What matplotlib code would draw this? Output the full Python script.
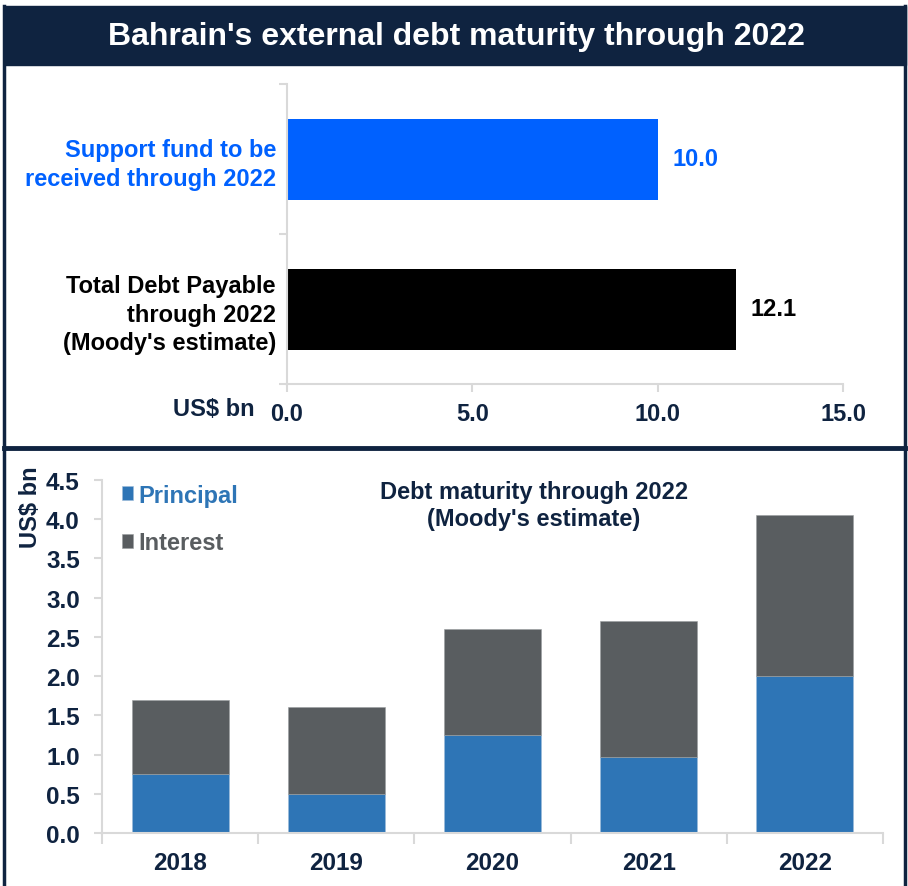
import numpy as np
import matplotlib.pyplot as plt
from matplotlib.patches import Rectangle
from matplotlib.lines import Line2D

plt.rcParams['font.family'] = ['Liberation Sans', 'DejaVu Sans']
plt.rcParams['font.weight'] = 'bold'
plt.rcParams['axes.labelweight'] = 'bold'

NAVY = '#0f2340'
GRID = '#d9d9d9'
BLUE_BRIGHT = '#0061ff'
BLUE = '#2e75b6'
GREY = '#595d60'

# top panel: funding vs payable
fund_labels = ["Total Debt Payable\nthrough 2022\n(Moody's estimate)",
               "Support fund to be\nreceived through 2022"]
fund_values = [12.1, 10.0]
fund_colors = ['black', BLUE_BRIGHT]

# bottom panel: maturity by year
years = ['2018', '2019', '2020', '2021', '2022']
principal = [0.75, 0.50, 1.25, 0.97, 2.00]
interest = [0.95, 1.10, 1.35, 1.73, 2.05]

W, H = 908, 887
fig = plt.figure(figsize=(W / 100, H / 100), dpi=100)


def fx(px):
    return px / W


def fy(py):
    return 1 - py / H


# frame, title band and panel divider
fig.patches.append(Rectangle((fx(4), fy(66)), fx(902), fy(7) - fy(66),
                             transform=fig.transFigure, color=NAVY, zorder=0))
fig.text(fx(456), fy(37), "Bahrain's external debt maturity through 2022",
         color='white', fontsize=23, ha='center', va='center')
for xs, ys, lw in [([4, 4], [7, 887], 2.5), ([905, 905], [7, 887], 2.5),
                   ([4, 905], [449, 449], 3.5)]:
    fig.lines.append(Line2D([fx(x) for x in xs], [fy(y) for y in ys],
                            transform=fig.transFigure, color=NAVY, lw=lw))

# ---- top horizontal bars ----
ax1 = fig.add_axes([fx(287), fy(385), fx(843) - fx(287), fy(85) - fy(385)])
ypos = np.arange(len(fund_values))
ax1.barh(ypos, fund_values, height=0.54, color=fund_colors)
ax1.set_xlim(0, 15)
ax1.set_ylim(-0.5, 1.5)
for y, v, c in zip(ypos, fund_values, fund_colors):
    ax1.text(v + 0.4, y, f'{v:.1f}', color=c, fontsize=17,
             ha='left', va='center')
ax1.set_yticks(ypos)
ax1.set_yticklabels(fund_labels, fontsize=17, linespacing=1.3)
for lab, c in zip(ax1.get_yticklabels(), fund_colors):
    lab.set_color(c)
ax1.set_yticks([-0.5, 0.5, 1.5], minor=True)
ax1.tick_params(axis='y', which='major', length=0, pad=8)
ax1.tick_params(axis='y', which='minor', length=6, width=1.5, color=GRID)
ax1.set_xticks([0, 5, 10, 15])
ax1.set_xticklabels(['0.0', '5.0', '10.0', '15.0'])
ax1.tick_params(axis='x', length=6, width=1.5, color=GRID, labelsize=17,
                labelcolor=NAVY, pad=7)
for s in ['top', 'right']:
    ax1.spines[s].set_visible(False)
for s in ['left', 'bottom']:
    ax1.spines[s].set_color(GRID)
    ax1.spines[s].set_linewidth(1.5)
fig.text(fx(214), fy(410), 'US$ bn', color=NAVY, fontsize=17,
         ha='center', va='center')

# ---- bottom stacked columns ----
x0, x1, y0, y1 = 102, 883, 834, 481
ax2 = fig.add_axes([fx(x0), fy(y0), fx(x1) - fx(x0), fy(y1) - fy(y0)])
x = np.arange(len(years))
ax2.bar(x, principal, width=0.62, color=BLUE, label='Principal',
        edgecolor='#9dbbd9', linewidth=0.4)
ax2.bar(x, interest, width=0.62, bottom=principal, color=GREY,
        label='Interest', edgecolor='#9a9d9f', linewidth=0.4)
ax2.set_xlim(-0.5, len(years) - 0.5)
ax2.set_ylim(0, 4.5)
ax2.set_yticks(np.arange(0, 4.51, 0.5))
ax2.set_yticklabels([f'{v:.1f}' for v in np.arange(0, 4.51, 0.5)])
ax2.set_xticks(x)
ax2.set_xticklabels(years)
ax2.set_xticks(np.arange(-0.5, len(years)), minor=True)
ax2.tick_params(axis='x', which='major', length=0, pad=13)
ax2.tick_params(axis='x', which='minor', length=8, width=1.5, color=GRID)
ax2.tick_params(axis='both', labelsize=17.5, labelcolor=NAVY)
ax2.tick_params(axis='y', length=6, width=1.5, color=GRID, pad=10)
for s in ['top', 'right']:
    ax2.spines[s].set_visible(False)
for s in ['left', 'bottom']:
    ax2.spines[s].set_color(GRID)
    ax2.spines[s].set_linewidth(1.5)
ax2.set_ylabel('US$ bn', color=NAVY, fontsize=17)
ax2.yaxis.set_label_coords((42 - x0) / (x1 - x0), (y0 - 507) / (y0 - y1))

leg = ax2.legend(loc='upper left', bbox_to_anchor=(-0.002, 1.05), frameon=False,
                 fontsize=17, handlelength=0.5, handleheight=0.5,
                 handletextpad=0.2, labelspacing=1.05)
for txt, c in zip(leg.get_texts(), [BLUE, GREY]):
    txt.set_color(c)

ax2.text((534 - x0) / (x1 - x0), 1.0, "Debt maturity through 2022\n(Moody's estimate)",
         transform=ax2.transAxes, ha='center', va='top', color=NAVY,
         fontsize=17, linespacing=1.2)

fig.savefig('out.png', dpi=100)
